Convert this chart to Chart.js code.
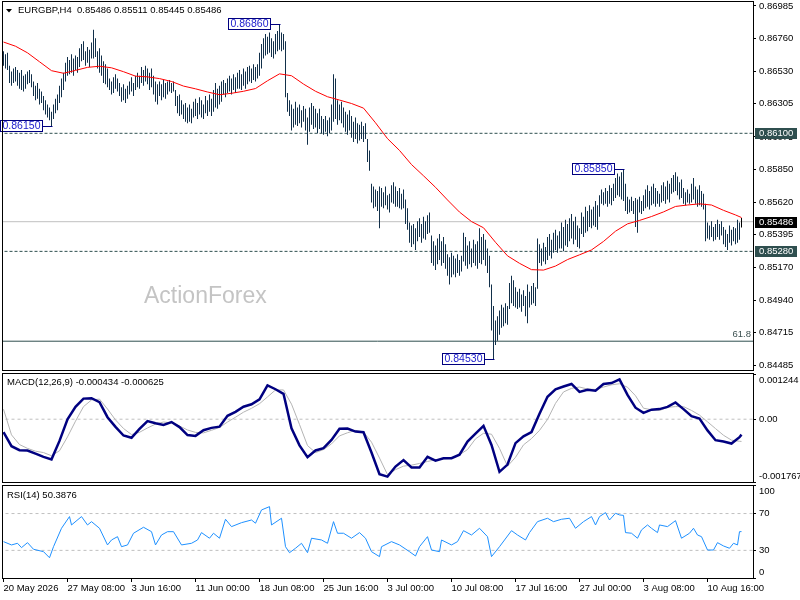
<!DOCTYPE html>
<html><head><meta charset="utf-8">
<script src="https://cdn.jsdelivr.net/npm/chart.js@4.4.0/dist/chart.umd.min.js"></script>
<style>
html,body{margin:0;padding:0;background:#fff;width:800px;height:600px;overflow:hidden}
canvas{position:absolute;left:0}
</style></head><body>
<canvas id="cPrice" width="800" height="372" style="top:0px"></canvas>
<canvas id="cMacd" width="800" height="112" style="top:372px"></canvas>
<canvas id="cRsi" width="800" height="116" style="top:484px"></canvas>
<script>
// ---------- DATA ----------
const symbolTitle = 'EURGBP,H4';
const lastOHLC = [0.85486, 0.85511, 0.85445, 0.85486];
const timeTickBars = [0,32,64,96,128,160,192,224,256,288,320,352];
const timeLabels = ['20 May 2026','27 May 08:00','3 Jun 16:00','11 Jun 00:00','18 Jun 08:00','25 Jun 16:00','3 Jul 00:00','10 Jul 08:00','17 Jul 16:00','27 Jul 00:00','3 Aug 08:00','10 Aug 16:00'];
const priceTicks = [0.86985,0.86760,0.86530,0.86305,0.86075,0.85850,0.85620,0.85395,0.85170,0.84940,0.84715,0.84485];
const macdTicks = [0.001244, 0, -0.001767];
const rsiTicks = [100, 70, 30, 0];

const highs = [
0.8667,0.8665,0.8666,0.8657,0.8653,0.8655,0.8656,0.8654,0.8652,0.8654,
0.8650,0.8651,0.8653,0.8654,0.8651,0.8646,0.8643,0.8645,0.8641,0.8639,
0.8636,0.8633,0.8630,0.8628,0.8625,0.8630,0.8634,0.8637,0.8643,0.8648,
0.8652,0.8659,0.8663,0.8661,0.8665,0.8662,0.8664,0.8663,0.8669,0.8672,
0.8674,0.8667,0.8670,0.8668,0.8673,0.8682,0.8676,0.8667,0.8669,0.8664,
0.8660,0.8658,0.8655,0.8648,0.8646,0.8649,0.8651,0.8648,0.8645,0.8642,
0.8644,0.8641,0.8643,0.8646,0.8649,0.8645,0.8650,0.8652,0.8650,0.8656,
0.8654,0.8657,0.8655,0.8652,0.8655,0.8650,0.8646,0.8644,0.8646,0.8644,
0.8647,0.8645,0.8646,0.8647,0.8645,0.8646,0.8640,0.8636,0.8637,0.8633,
0.8630,0.8631,0.8628,0.8630,0.8627,0.8632,0.8634,0.8631,0.8635,0.8633,
0.8630,0.8636,0.8633,0.8637,0.8634,0.8640,0.8645,0.8641,0.8643,0.8646,
0.8647,0.8645,0.8648,0.8650,0.8648,0.8651,0.8649,0.8652,0.8654,0.8651,
0.8655,0.8653,0.8656,0.8657,0.8655,0.8658,0.8656,0.8658,0.8666,0.8672,
0.8676,0.8679,0.8677,0.8680,0.8676,0.8674,0.8679,0.8681,0.8686,0.8680,
0.8679,0.8674,0.8638,0.8633,0.8630,0.8627,0.8632,0.8628,0.8630,0.8626,
0.8629,0.8627,0.8621,0.8628,0.8631,0.8629,0.8627,0.8624,0.8627,0.8622,
0.8620,0.8622,0.8619,0.8621,0.8630,0.8651,0.8648,0.8633,0.8630,0.8632,
0.8628,0.8625,0.8623,0.8626,0.8622,0.8618,0.8621,0.8617,0.8616,0.8618,
0.8615,0.8617,0.8606,0.8598,0.8575,0.8573,0.8571,0.8570,0.8573,0.8572,
0.8569,0.8573,0.8567,0.8568,0.8574,0.8576,0.8573,0.8570,0.8572,0.8568,
0.8571,0.8564,0.8558,0.8548,0.8546,0.8547,0.8544,0.8549,0.8551,0.8547,
0.8552,0.8549,0.8553,0.8555,0.8539,0.8535,0.8532,0.8537,0.8540,0.8535,
0.8538,0.8533,0.8526,0.8524,0.8527,0.8525,0.8523,0.8526,0.8522,0.8525,
0.8541,0.8538,0.8532,0.8535,0.8530,0.8536,0.8533,0.8535,0.8544,0.8538,
0.8540,0.8536,0.8530,0.8525,0.8505,0.8490,0.8480,0.8483,0.8487,0.8491,
0.8489,0.8492,0.8490,0.8506,0.8511,0.8508,0.8503,0.8500,0.8502,0.8498,
0.8501,0.8497,0.8505,0.8500,0.8504,0.8506,0.8503,0.8537,0.8533,0.8530,
0.8534,0.8531,0.8538,0.8540,0.8536,0.8541,0.8543,0.8539,0.8542,0.8548,
0.8545,0.8550,0.8547,0.8551,0.8554,0.8549,0.8552,0.8546,0.8544,0.8555,
0.8552,0.8559,0.8556,0.8560,0.8557,0.8559,0.8563,0.8560,0.8567,0.8571,
0.8569,0.8572,0.8570,0.8574,0.8572,0.8575,0.8579,0.8582,0.8580,0.8583,
0.8585,0.8575,0.8566,0.8564,0.8566,0.8563,0.8565,0.8564,0.8566,0.8563,
0.8567,0.8571,0.8574,0.8570,0.8573,0.8575,0.8572,0.8570,0.8568,0.8574,
0.8576,0.8573,0.8577,0.8575,0.8579,0.8581,0.8583,0.8580,0.8576,0.8578,
0.8572,0.8569,0.8571,0.8568,0.8575,0.8579,0.8573,0.8571,0.8574,0.8570,
0.8568,0.8561,0.8548,0.8546,0.8549,0.8545,0.8547,0.8550,0.8547,0.8549,
0.8545,0.8543,0.8540,0.8546,0.8543,0.8545,0.8544,0.8550,0.8548,0.85511];
const lows = [
0.8657,0.8655,0.8654,0.8645,0.8643,0.8645,0.8646,0.8643,0.8641,0.8640,
0.8639,0.8641,0.8644,0.8645,0.8642,0.8636,0.8633,0.8634,0.8630,0.8631,
0.8626,0.8623,0.8621,0.8619,0.8615,0.8620,0.8624,0.8626,0.8631,0.8635,
0.8640,0.8646,0.8650,0.8651,0.8652,0.8650,0.8654,0.8652,0.8656,0.8660,
0.8661,0.8657,0.8659,0.8656,0.8662,0.8662,0.8663,0.8655,0.8652,0.8650,
0.8645,0.8644,0.8642,0.8640,0.8637,0.8638,0.8641,0.8639,0.8636,0.8632,
0.8633,0.8631,0.8634,0.8637,0.8639,0.8636,0.8640,0.8642,0.8641,0.8645,
0.8643,0.8646,0.8644,0.8640,0.8642,0.8637,0.8632,0.8630,0.8636,0.8633,
0.8635,0.8634,0.8637,0.8639,0.8638,0.8639,0.8629,0.8624,0.8622,0.8623,
0.8620,0.8618,0.8617,0.8618,0.8617,0.8621,0.8622,0.8620,0.8623,0.8621,
0.8620,0.8624,0.8622,0.8625,0.8622,0.8625,0.8628,0.8627,0.8630,0.8632,
0.8637,0.8635,0.8638,0.8639,0.8637,0.8640,0.8638,0.8641,0.8641,0.8640,
0.8643,0.8641,0.8644,0.8646,0.8645,0.8647,0.8646,0.8648,0.8650,0.8655,
0.8662,0.8664,0.8665,0.8666,0.8663,0.8662,0.8665,0.8667,0.8668,0.8667,
0.8668,0.8635,0.8625,0.8622,0.8612,0.8614,0.8616,0.8615,0.8617,0.8614,
0.8618,0.8612,0.8602,0.8611,0.8616,0.8613,0.8614,0.8610,0.8613,0.8610,
0.8609,0.8611,0.8608,0.8610,0.8612,0.8618,0.8620,0.8616,0.8619,0.8617,
0.8614,0.8611,0.8609,0.8612,0.8607,0.8604,0.8606,0.8603,0.8605,0.8606,
0.8604,0.8606,0.8590,0.8584,0.8562,0.8558,0.8559,0.8556,0.8544,0.8559,
0.8558,0.8560,0.8557,0.8555,0.8562,0.8561,0.8559,0.8559,0.8558,0.8557,
0.8558,0.8547,0.8543,0.8534,0.8531,0.8533,0.8529,0.8535,0.8538,0.8534,
0.8537,0.8536,0.8540,0.8541,0.8520,0.8518,0.8515,0.8519,0.8522,0.8518,
0.8520,0.8516,0.8511,0.8505,0.8510,0.8512,0.8510,0.8513,0.8511,0.8514,
0.8521,0.8518,0.8516,0.8519,0.8517,0.8520,0.8518,0.8516,0.8520,0.8519,
0.8522,0.8518,0.8513,0.8503,0.8473,0.8453,0.8463,0.8466,0.8470,0.8475,
0.8476,0.8478,0.8477,0.8488,0.8492,0.8490,0.8489,0.8488,0.8489,0.8486,
0.8490,0.8483,0.8478,0.8489,0.8491,0.8492,0.8490,0.8502,0.8520,0.8518,
0.8521,0.8519,0.8522,0.8525,0.8523,0.8527,0.8529,0.8527,0.8530,0.8530,
0.8528,0.8532,0.8531,0.8535,0.8537,0.8533,0.8536,0.8531,0.8530,0.8540,
0.8538,0.8541,0.8542,0.8545,0.8544,0.8546,0.8545,0.8543,0.8552,0.8561,
0.8560,0.8561,0.8559,0.8561,0.8560,0.8563,0.8565,0.8567,0.8566,0.8564,
0.8563,0.8556,0.8554,0.8555,0.8556,0.8554,0.8545,0.8541,0.8555,0.8554,
0.8556,0.8558,0.8559,0.8557,0.8560,0.8561,0.8559,0.8561,0.8559,0.8562,
0.8563,0.8561,0.8564,0.8562,0.8568,0.8569,0.8570,0.8567,0.8564,0.8565,
0.8561,0.8560,0.8562,0.8561,0.8562,0.8564,0.8561,0.8559,0.8560,0.8559,
0.8557,0.8535,0.8537,0.8536,0.8538,0.8535,0.8536,0.8538,0.8536,0.8539,
0.8533,0.8531,0.8529,0.8534,0.8532,0.8535,0.8533,0.8534,0.8536,0.85445];

const maBars = [0,6,12,18,24,30,36,42,48,54,60,66,72,78,84,90,96,102,108,114,120,126,132,138,144,150,156,162,168,174,180,186,192,198,204,210,216,222,228,234,240,246,252,258,264,270,276,282,288,294,300,306,312,318,324,330,336,342,348,354,360,366,369];
const maVals = [0.86734,0.86705,0.86659,0.86597,0.86535,0.86517,0.86537,0.86558,0.86566,0.86555,
0.86528,0.86497,0.86492,0.86480,0.86460,0.86428,0.86409,0.86387,0.86368,0.86378,
0.86392,0.86411,0.86465,0.86513,0.86500,0.86442,0.86392,0.86354,0.86331,0.86307,
0.86275,0.86173,0.86063,0.85981,0.85883,0.85805,0.85725,0.85637,0.85553,0.85487,
0.85444,0.85343,0.85249,0.85197,0.85153,0.85150,0.85178,0.85223,0.85256,0.85290,
0.85349,0.85420,0.85471,0.85495,0.85522,0.85554,0.85592,0.85602,0.85610,0.85602,
0.85565,0.85533,0.85515];

const macdBars = [0,4,8,12,16,20,24,28,32,36,40,44,48,52,56,60,64,68,72,76,80,84,88,92,96,100,104,108,112,116,120,124,128,132,136,140,144,148,152,156,160,164,168,172,176,180,184,188,192,196,200,204,208,212,216,220,224,228,232,236,240,244,248,252,256,260,264,268,272,276,280,284,288,292,296,300,304,308,312,316,320,324,328,332,336,340,344,348,352,356,360,364,368,369];
const macdVals = [
-0.000365,-0.000759,-0.000871,-0.000882,-0.000969,-0.00106,-0.00113,-0.00061,-0.000003,0.000346,
0.000579,0.00059,0.000478,0.000056,-0.000216,-0.000458,-0.000523,-0.00027,-0.000053,-0.000112,
-0.00016,-0.000079,-0.000222,-0.000447,-0.000469,-0.000309,-0.000244,-0.000211,0.000096,0.000208,
0.000351,0.000419,0.000559,0.00095,0.000843,0.000714,-0.000259,-0.000736,-0.001068,-0.00088,
-0.000815,-0.000582,-0.000267,-0.000261,-0.000348,-0.000368,-0.000936,-0.001546,-0.001616,-0.001332,
-0.001149,-0.001357,-0.001357,-0.001057,-0.001166,-0.001102,-0.001096,-0.000998,-0.000627,-0.000407,
-0.000188,-0.000725,-0.001481,-0.001276,-0.000674,-0.000483,-0.000362,0.000155,0.000632,0.000843,
0.000919,0.000992,0.000767,0.000829,0.000801,0.000989,0.001017,0.001118,0.000683,0.000323,
0.000177,0.000267,0.000284,0.000346,0.000472,0.000284,0.000084,0.000017,-0.000315,-0.00059,
-0.000627,-0.000686,-0.000506,-0.000434];
const signalVals = [
0.000281,-0.000441,-0.000714,-0.000821,-0.000899,-0.000939,-0.001028,-0.000888,-0.000497,-0.000056,
0.000354,0.000542,0.000565,0.000287,-0.00002,-0.000261,-0.000433,-0.000368,-0.000247,-0.000138,
-0.000079,-0.000104,-0.000191,-0.000303,-0.000371,-0.000385,-0.000312,-0.000233,-0.000079,0.000056,
0.000197,0.000306,0.000436,0.000627,0.000823,0.000823,0.000424,-0.000149,-0.000742,-0.000939,
-0.000854,-0.000694,-0.000469,-0.000382,-0.000315,-0.00036,-0.000646,-0.001093,-0.00156,-0.001419,
-0.001321,-0.001293,-0.001245,-0.001189,-0.001141,-0.001118,-0.001099,-0.001,-0.000854,-0.000554,
-0.000396,-0.000422,-0.000821,-0.001321,-0.001073,-0.000722,-0.000545,-0.000315,-0.000006,0.000447,
0.000767,0.000868,0.000905,0.000849,0.000837,0.000905,0.000967,0.000998,0.000899,0.00066,
0.000309,0.000267,0.000244,0.000334,0.000354,0.000354,0.000247,0.000115,-0.000073,-0.000264,
-0.000452,-0.00059,-0.000621,-0.000625];

const rsiBars = [0,4,7,9,12,15,20,23,25,29,33,34,39,42,44,48,52,54,57,59,62,65,70,74,76,79,82,85,89,94,97,99,103,105,108,111,114,119,124,126,129,133,134,139,141,143,146,149,152,154,159,162,165,167,170,174,178,181,184,188,189,194,198,203,206,208,212,214,218,219,224,227,230,234,238,242,244,248,254,257,261,263,267,272,275,279,283,286,290,294,296,298,301,303,306,308,310,311,314,317,319,322,324,327,328,332,336,339,343,345,347,349,352,355,357,360,363,365,367,368,369];
const rsiVals = [39.5,35.9,37.7,33,38.4,31.2,28.6,22,34,54,66.7,57.6,66.7,57.6,61.2,54,35.9,41.3,44.9,34,35.9,48.6,55.1,50.3,35.9,46.7,50.3,50.3,35.9,37.7,41.3,49.3,43.2,48.6,43.2,63.8,55.8,60.1,63,59.5,73.9,77.5,57.6,64.9,34,27.5,32.3,37.7,27.5,43.2,41.3,37.7,61.2,48.6,48.6,43.2,49.3,43.2,28.6,23.2,34,39.5,35.9,28.6,23.9,34,44.9,30.4,28.6,41.3,35.9,39.5,51.4,46.7,54,44.9,23.2,34,51.4,46.7,41.3,49.3,61.2,64.9,61.2,63.8,64.9,54,61.2,66.7,57.6,66.7,71,63,70.3,68.5,68,49.3,48.6,43.2,52.2,57.6,54,49.3,57.6,55.8,62.3,43.2,48.6,54,46.7,44.9,30.4,30.4,38.4,34.8,32.3,37.7,35.9,50.3,50.3876];

const dashedLevels = [0.86100, 0.85280];
const currentPrice = 0.85486;
const fibLevel = 0.84656;
const fibLabel = '61.8';
const swingBars = [138, 24, 310, 245];
const swingPrices = [0.86860, 0.86150, 0.85850, 0.84530];
const macdName = 'MACD(12,26,9)';
const macdLast = [-0.000434, -0.000625];
const rsiName = 'RSI(14)';
const rsiLast = 50.3876;
const rsiLevels = [70, 30];

// ---------- STYLE / SETUP ----------
const FAM = '"Liberation Sans", Arial, sans-serif';
Chart.defaults.font.family = FAM;
Chart.defaults.font.size = 9.5;
Chart.defaults.color = '#000';
const BAR_COLOR = '#12304a';
const LAST = highs.length - 1;

function zeroPad(s) { s.paddingLeft = 0; s.paddingRight = 0; s.paddingTop = 0; s.paddingBottom = 0; }
function xScale(show) {
  return {
    type: 'linear', min: -0.75, max: 374.75, display: show, offset: false,
    afterBuildTicks: s => { s.ticks = timeTickBars.map(v => ({ value: v })); },
    afterFit: s => { if (show) s.height = 22; zeroPad(s); },
    ticks: { autoSkip: false, maxRotation: 0, minRotation: 0, align: 'start', padding: 1, color: '#000',
      callback: (v, i) => timeLabels[i] },
    grid: { drawOnChartArea: false, drawTicks: true, tickLength: 4, color: '#000', offset: false },
    border: { display: false }
  };
}
function yScale(min, max, ticks, fmt) {
  return {
    type: 'linear', position: 'right', min: min, max: max,
    afterBuildTicks: s => { s.ticks = ticks.map(v => ({ value: v })); },
    afterFit: s => { s.width = 47; zeroPad(s); },
    ticks: { padding: 3, color: '#000', callback: fmt },
    grid: { drawOnChartArea: false, drawTicks: true, tickLength: 3, color: '#000' },
    border: { display: false }
  };
}
function hline(y, color, dash, order) {
  return { type: 'line', data: [{ x: -2, y: y }, { x: 377, y: y }], borderColor: color, borderWidth: 1,
    borderDash: dash, pointRadius: 0, order: order || 10 };
}
const frame = {
  id: 'frame',
  afterDraw(chart) {
    const { ctx, chartArea: a } = chart;
    ctx.save(); ctx.strokeStyle = '#000'; ctx.lineWidth = 1;
    ctx.strokeRect(a.left + 0.5, a.top + 0.5, a.right - a.left, a.bottom - a.top);
    ctx.restore();
  }
};
const baseOpts = {
  responsive: false, animation: false, devicePixelRatio: 1, events: [],
  plugins: { legend: { display: false }, tooltip: { enabled: false } }
};

// ---------- PRICE PANEL ----------
const pricePlugin = {
  id: 'priceDecor',
  beforeDatasetsDraw(chart) {
    const ctx = chart.ctx;
    ctx.save();
    ctx.font = '23px ' + FAM; ctx.fillStyle = '#c4c4c4'; ctx.textBaseline = 'alphabetic'; ctx.textAlign = 'left';
    ctx.fillText('ActionForex', 144, 302.5);
    ctx.restore();
  },
  afterDatasetsDraw(chart) {
    const ctx = chart.ctx, xs = chart.scales.x, ys = chart.scales.y;
    ctx.save();
    ctx.font = '10.5px ' + FAM;
    swingBars.forEach((b, k) => {
      const x = xs.getPixelForValue(b), y = Math.round(ys.getPixelForValue(swingPrices[k]));
      const txt = swingPrices[k].toFixed(5);
      const w = Math.ceil(ctx.measureText(txt).width) + 4, h = 12;
      const bx = Math.round(x - 10 - w);
      ctx.strokeStyle = '#000080'; ctx.lineWidth = 1;
      ctx.beginPath(); ctx.moveTo(bx + w, y + 0.5); ctx.lineTo(Math.round(x) + 0.5, y + 0.5); ctx.stroke();
      ctx.fillStyle = '#fff'; ctx.fillRect(bx, y - 6, w, h);
      ctx.strokeRect(bx + 0.5, y - 5.5, w, h - 1);
      ctx.fillStyle = '#1a1acc'; ctx.textAlign = 'center'; ctx.textBaseline = 'middle';
      ctx.fillText(txt, bx + w / 2 + 0.5, y + 0.5);
    });
    ctx.font = '9.5px ' + FAM; ctx.fillStyle = '#3c5050'; ctx.textAlign = 'right'; ctx.textBaseline = 'middle';
    ctx.fillText(fibLabel, 751, ys.getPixelForValue(fibLevel) - 6.5);
    ctx.restore();
  },
  afterDraw(chart) {
    const ctx = chart.ctx, ys = chart.scales.y;
    ctx.save();
    ctx.font = '9.5px ' + FAM; ctx.textBaseline = 'middle'; ctx.textAlign = 'left';
    const boxes = [[dashedLevels[0], '#2f4f4f'], [dashedLevels[1], '#2f4f4f'], [currentPrice, '#000']];
    boxes.forEach(([v, c]) => {
      const y = Math.round(ys.getPixelForValue(v));
      ctx.fillStyle = c; ctx.fillRect(755, y - 5, 42, 11);
      ctx.fillStyle = '#fff'; ctx.fillText(v.toFixed(5), 759, y + 0.5);
    });
    ctx.fillStyle = '#000';
    ctx.beginPath(); ctx.moveTo(6, 9); ctx.lineTo(12, 9); ctx.lineTo(9, 12.5); ctx.closePath(); ctx.fill();
    ctx.fillText(symbolTitle + '  ' + lastOHLC.map(v => v.toFixed(5)).join(' '), 18, 10.5);
    ctx.restore();
  }
};

new Chart(document.getElementById('cPrice'), {
  type: 'bar',
  data: {
    datasets: [
      hline(dashedLevels[0], '#2f4f4f', [3, 2]),
      hline(dashedLevels[1], '#2f4f4f', [3, 2]),
      hline(currentPrice, '#c0c0c0', []),
      hline(fibLevel, '#2f4f4f', []),
      { type: 'bar', data: highs.map((h, i) => ({ x: i, y: [lows[i], h] })),
        backgroundColor: highs.map((h, i) => i === LAST ? '#000' : BAR_COLOR),
        barThickness: 1, borderWidth: 0, borderSkipped: false, inflateAmount: 0, order: 5 },
      { type: 'line', data: maBars.map((b, k) => ({ x: b, y: maVals[k] })), borderColor: '#ff0000',
        borderWidth: 1, pointRadius: 0, tension: 0, order: 1 }
    ]
  },
  options: Object.assign({}, baseOpts, {
    layout: { padding: { left: 2, top: 1, right: 0, bottom: 2 } },
    scales: { x: xScale(false), y: yScale(0.84456, 0.87019, priceTicks, v => Number(v).toFixed(5)) }
  }),
  plugins: [pricePlugin, frame]
});

// ---------- MACD PANEL ----------
const macdTitle = {
  id: 'macdTitle',
  afterDraw(chart) {
    const ctx = chart.ctx; ctx.save();
    ctx.font = '9.5px ' + FAM; ctx.fillStyle = '#000'; ctx.textBaseline = 'middle'; ctx.textAlign = 'left';
    ctx.fillText(macdName + ' ' + macdLast.map(v => v.toFixed(6)).join(' '), 7, 10.5);
    ctx.restore();
  }
};
new Chart(document.getElementById('cMacd'), {
  type: 'line',
  data: {
    datasets: [
      hline(0, '#c0c0c0', [3, 3]),
      { data: macdBars.map((b, k) => ({ x: b, y: signalVals[k] })), borderColor: '#b4b4b4', borderWidth: 1,
        pointRadius: 0, tension: 0, order: 3 },
      { data: macdBars.map((b, k) => ({ x: b, y: macdVals[k] })), borderColor: '#000080', borderWidth: 2.5,
        pointRadius: 0, tension: 0, order: 1 }
    ]
  },
  options: Object.assign({}, baseOpts, {
    layout: { padding: { left: 2, top: 1, right: 0, bottom: 2 } },
    scales: { x: xScale(false), y: yScale(-0.001767, 0.0013, macdTicks, v => {
      if (v === macdTicks[0]) return ['', v.toFixed(6)];
      if (v === macdTicks[2]) return [v.toFixed(6), ''];
      return '0.00';
    }) }
  }),
  plugins: [macdTitle, frame]
});

// ---------- RSI PANEL ----------
const rsiTitle = {
  id: 'rsiTitle',
  afterDraw(chart) {
    const ctx = chart.ctx; ctx.save();
    ctx.font = '9.5px ' + FAM; ctx.fillStyle = '#000'; ctx.textBaseline = 'middle'; ctx.textAlign = 'left';
    ctx.fillText(rsiName + ' ' + rsiLast.toFixed(4), 7, 11);
    ctx.restore();
  }
};
new Chart(document.getElementById('cRsi'), {
  type: 'line',
  data: {
    datasets: [
      hline(rsiLevels[0], '#c0c0c0', [3, 3]),
      hline(rsiLevels[1], '#c0c0c0', [3, 3]),
      { data: rsiBars.map((b, k) => ({ x: b, y: rsiVals[k] })), borderColor: '#1e90ff', borderWidth: 1,
        pointRadius: 0, tension: 0, order: 1 }
    ]
  },
  options: Object.assign({}, baseOpts, {
    layout: { padding: { left: 2, top: 1, right: 0, bottom: 0 } },
    scales: { x: xScale(true), y: yScale(0, 101, rsiTicks, v => {
      if (v === 100) return ['', '100'];
      if (v === 0) return ['0', ''];
      return String(v);
    }) }
  }),
  plugins: [rsiTitle, frame]
});
</script>
</body></html>
